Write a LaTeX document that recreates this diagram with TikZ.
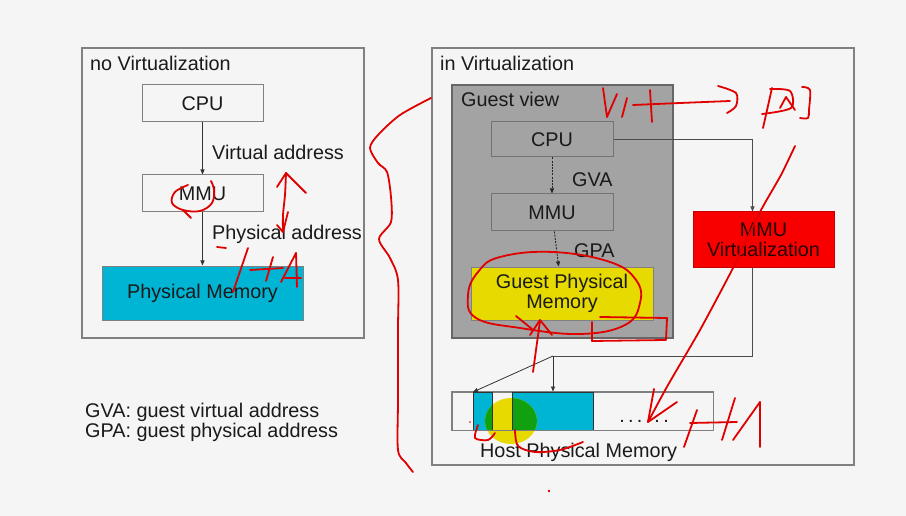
\documentclass[tikz,border=0pt]{standalone}
\usepackage{fontspec}
\setmainfont{Liberation Sans}
\usetikzlibrary{arrows.meta}
\definecolor{bg}{HTML}{F5F5F5}
\definecolor{boxline}{HTML}{808080}
\definecolor{guestgray}{HTML}{A3A3A3}
\definecolor{memcyan}{HTML}{00B4D4}
\definecolor{memyellow}{HTML}{E6DA00}
\definecolor{virtred}{HTML}{F80000}
\definecolor{inkred}{HTML}{E00000}
\definecolor{txt}{HTML}{1A1A1A}
\definecolor{hlgreen}{HTML}{10A010}
\begin{document}
\begin{tikzpicture}[x=1pt,y=-1pt,
  every node/.style={font=\fontsize{19.8}{21}\selectfont, text=txt, inner sep=0pt},
  panel/.style={draw=boxline, line width=1.2pt, fill=bg},
  blockbox/.style={draw=boxline, line width=1pt, rectangle, align=center},
  conn/.style={draw=black!80, line width=0.8pt, -{Triangle[length=5pt,width=4pt]}},
  gconn/.style={draw=black!85, line width=0.9pt, dash pattern=on 2pt off 1.2pt, -{Triangle[length=5pt,width=4pt]}},
  plainline/.style={draw=black!70, line width=0.8pt},
  ink/.style={draw=inkred, line width=1.8pt, line cap=round, line join=round}]
\useasboundingbox (0,0) rectangle (906,516);
\fill[bg] (0,0) rectangle (906,516);

% ---------- left panel ----------
\draw[panel] (82,48) rectangle (364,338);
\node[anchor=base west] (tnov) at (90,71) {no Virtualization};
\node[blockbox, fill=bg, minimum width=121pt, minimum height=37pt] (cpuL) at (202.5,103.5) {CPU};
\node[blockbox, fill=bg, minimum width=121pt, minimum height=37pt] (mmuL) at (202.5,193.5) {MMU};
\node[blockbox, fill=memcyan, minimum width=201pt, minimum height=54pt] (pmL) at (202.5,293) {Physical Memory};
\draw[conn] (cpuL) -- (mmuL);
\draw[conn] (mmuL) -- (pmL);
\node[anchor=base west] (tva) at (212,160) {Virtual address};
\node[anchor=base west] (tpa) at (212,240) {Physical address};

% legend
\node[anchor=base west] (lg1) at (85,417) {GVA: guest virtual address};
\node[anchor=base west] (lg2) at (85,437) {GPA: guest physical address};

% ---------- right panel ----------
\draw[panel] (432,48) rectangle (854,465);
\node[anchor=base west] (tinv) at (440,71) {in Virtualization};
\draw[draw=black!60, line width=1.2pt, fill=guestgray] (452,85) rectangle (673,338);
\node[anchor=base west] (tgv) at (461,107) {Guest view};
\node[blockbox, draw=black!55, fill=guestgray, minimum width=122pt, minimum height=35pt] (gcpu) at (552,139.5) {CPU};
\node[blockbox, draw=black!55, fill=guestgray, minimum width=122pt, minimum height=37pt] (gmmu) at (552,212.5) {MMU};
\node[blockbox, draw=black!50, fill=memyellow, minimum width=182pt, minimum height=53pt] (gpm) at (562,293.5) {Guest Physical\\[-1pt]Memory};
\draw[gconn] (gcpu) -- (gmmu);
\draw[gconn] (gmmu) -- (gpm);
\node[anchor=base west] (tgva) at (572,187) {GVA};
\node[anchor=base west] (tgpa) at (574,258) {GPA};

\node[blockbox, draw=virtred!80!black, fill=virtred, minimum width=141pt, minimum height=55pt, text=black!85!red] (mmuv) at (763.5,239.5) {MMU\\[-1pt]Virtualization};

% host physical memory
\node[blockbox, fill=bg, minimum width=261pt, minimum height=38pt] (host) at (582.5,411) {};
\fill[memcyan] (473,392) rectangle (492,430);
\fill[memcyan] (512,392) rectangle (593,430);
\fill[memyellow] (511,421) ellipse [x radius=26, y radius=23];
\begin{scope}
  \clip (473,392) rectangle (492,430) (512,392) rectangle (593,430);
  \fill[hlgreen] (511,421) ellipse [x radius=26, y radius=23];
\end{scope}
\draw[black!80, line width=0.8pt] (473,392) rectangle (492,430);
\draw[black!80, line width=0.8pt] (512,392) rectangle (593,430);
\draw[boxline, line width=1pt] (host.north west) rectangle (host.south east);
\node[anchor=base] (dots) at (644,422) {.\,.\,.\,.\,.\,.};
\node[anchor=base west] (thost) at (480,457) {Host Physical Memory};
\coordinate (seg1) at (473,392);
\coordinate (split) at (553,356);

% connectors
\draw[plainline, -{Triangle[length=5pt,width=4pt]}] (gcpu.east) -| ([xshift=60pt]mmuv.north west);
\draw[plainline] ([xshift=60pt]mmuv.south west) |- (split);
\draw[conn] (split) -- (split |- host.north);
\draw[conn] (split) -- (seg1);

% ---------- red handwriting ----------
% brace
\draw[ink] plot[smooth, tension=0.5] coordinates {(431,98) (400,115) (378,135) (370,148) (378,163) (387,172) (391,197) (391,222) (379,239) (390,258) (398,280) (398,330) (398,400) (398,450) (406,463) (413,472)};
% circle around MMU (left)
\draw[ink] plot[smooth, tension=0.6] coordinates {(188,185) (175,192) (172,203) (183,210) (200,211) (212,203) (214,190) (211,181)};
\draw[ink] (183,210) -- (191,218);
% double arrow
\draw[ink] plot[smooth] coordinates {(286,173) (285,195) (283,215) (283,232)};
\draw[ink] (277,187) -- (286,173) -- (306,193);
\draw[ink] (277,225) -- (283,232) -- (288,212);
% dash and HA (left)
\draw[ink] (217,247) -- (226,248);
\draw[ink] (248,248) -- (233,292);
\draw[ink] (250,270) -- (283,268);
\draw[ink] (273,257) -- (266,281);
\draw[ink] (296,253) -- (281,282);
\draw[ink] (296,253) -- (297,287);
\draw[ink] (285,278) -- (301,278);
% VA -> PA
\draw[ink] (603,88) -- (607,117) -- (617,94);
\draw[ink] (627,98) -- (622,117);
\draw[ink] (650,90) -- (652,122);
\draw[ink] plot[smooth] coordinates {(633,105) (680,103) (730,101)};
\draw[ink] plot[smooth] coordinates {(718,86) (736,93) (736,106) (727,113)};
\draw[ink] (772,88) -- (763,128);
\draw[ink] plot[smooth] coordinates {(770,89) (790,91) (791,108) (762,114)};
\draw[ink] (780,108) -- (786,97) -- (795,110);
\draw[ink] plot[smooth] coordinates {(802,87) (810,90) (809,110) (808,118) (800,118)};
% ellipse around guest physical memory
\draw[ink] plot[smooth cycle, tension=0.7] coordinates {(500,257) (553,252) (610,262) (636,280) (640,303) (625,325) (580,334) (520,328) (476,318) (468,295) (478,272)};
% small rectangle
\draw[ink] (600,317) -- (667,318) -- (666,340) -- (592,341) -- (592,322);
% up arrow
\draw[ink] plot[smooth] coordinates {(533,372) (536,350) (540,321)};
\draw[ink] (530,335) -- (540,320) -- (552,335);
\draw[ink] (516,316) -- (532,329);
% long arrow to HA
\draw[ink] plot[smooth, tension=0.4] coordinates {(795,146) (781,175) (760,212) (733,268) (700,330) (668,385) (648,422)};
\draw[ink] (654,389) -- (648,422) -- (677,402);
% HA right
\draw[ink] (697,410) -- (684,447);
\draw[ink] (690,423) -- (737,422);
\draw[ink] (735,398) -- (722,440);
\draw[ink] (760,402) -- (733,440);
\draw[ink] (760,402) -- (760,447);
% u-marks on host memory
\draw[ink] plot[smooth] coordinates {(478,425) (475,438) (488,440) (495,433)};
\draw[ink] plot[smooth] coordinates {(515,430) (518,446) (535,452) (560,450) (583,442)};
\fill[inkred] (549,491) circle (1.3);
\fill[inkred] (470,422) circle (0.9);
\end{tikzpicture}
\end{document}
